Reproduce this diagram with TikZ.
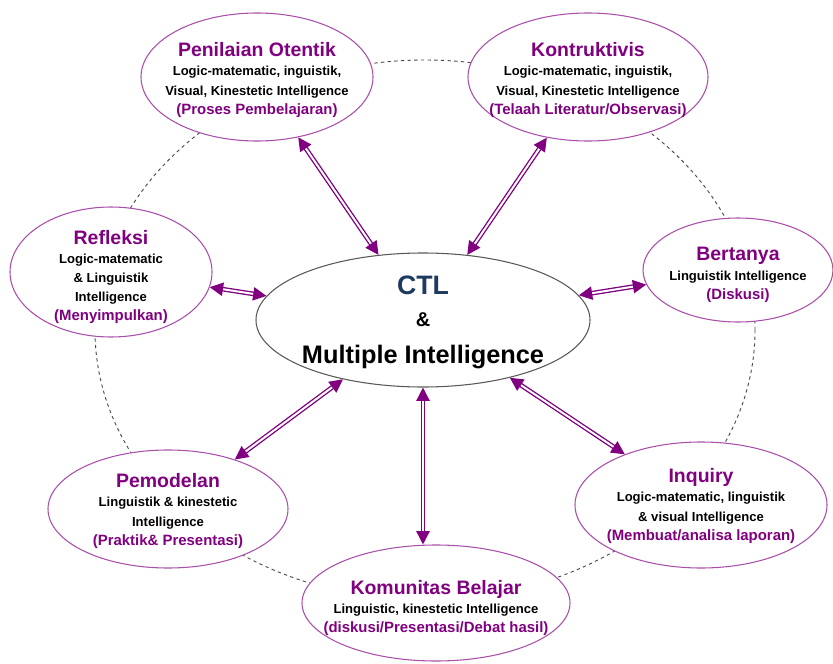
\documentclass[tikz,border=0pt]{standalone}
\usepackage{fontspec}
\setmainfont{Liberation Sans}
\usepackage{tikz}
\usetikzlibrary{shapes.geometric,arrows.meta}
\definecolor{ungu}{RGB}{128,0,128}
\definecolor{unguline}{RGB}{170,80,170}
\definecolor{ctlblue}{RGB}{30,58,96}
\tikzstyle{bubble} = [ellipse, draw=unguline, line width=0.8pt, fill=white, inner sep=0pt]
\tikzstyle{isi} = [align=center, font=\bfseries\fontsize{9.8}{14.4}\selectfont, inner sep=0pt]
\newcommand{\judul}[1]{{\color{ungu}\fontsize{14.6}{17}\selectfont #1}}
\newcommand{\kegiatan}[1]{{\color{ungu}\fontsize{11.2}{14.4}\selectfont #1}}
\begin{document}
\begin{tikzpicture}[x=0.75pt,y=-0.75pt,
link/.style={draw=ungu, double=white, double distance=1.5pt, line width=1pt,
  {Triangle[length=10pt,width=10pt]}-{Triangle[length=10pt,width=10pt]}}]
\useasboundingbox (0,0) rectangle (833,664);
% lingkaran putus-putus
\draw[dashed, dash pattern=on 2.5pt off 2.5pt, black!70, line width=0.7pt] (425,330) ellipse [x radius=330, y radius=270];
% pusat
\node[ellipse, draw=black!65, line width=0.8pt, fill=white, minimum width=250.5pt, minimum height=100.5pt] (ctl) at (423,320) {};
\node[align=center, inner sep=0pt, font=\bfseries] (ctlT) at (423,322)
  {{\color{ctlblue}\fontsize{20}{20}\selectfont CTL}\\[12pt]
   {\fontsize{15}{15}\selectfont \&}\\[13pt]
   {\fontsize{19}{19}\selectfont Multiple Intelligence}};
% komponen
\node[bubble, minimum width=174pt, minimum height=96pt] (pen) at (257,77) {};
\node[isi] (penT) at (257,80) {\judul{Penilaian Otentik}\\ Logic-matematic, inguistik,\\ Visual, Kinestetic Intelligence\\ \kegiatan{(Proses Pembelajaran)}};
\node[bubble, minimum width=180pt, minimum height=96pt] (kon) at (588,77) {};
\node[isi] (konT) at (588,80) {\judul{Kontruktivis}\\ Logic-matematic, inguistik,\\ Visual, Kinestetic Intelligence\\ \kegiatan{(Telaah Literatur/Observasi)}};
\node[bubble, minimum width=151.5pt, minimum height=97.5pt] (ref) at (111,272) {};
\node[isi] (refT) at (111,277) {\judul{Refleksi}\\ Logic-matematic\\ \& Linguistik\\ Intelligence\\ \kegiatan{(Menyimpulkan)}};
\node[bubble, minimum width=142.5pt, minimum height=78pt] (ber) at (738,270) {};
\node[isi] (berT) at (738,275) {\judul{Bertanya}\\ Linguistik Intelligence\\ \kegiatan{(Diskusi)}};
\node[bubble, minimum width=180pt, minimum height=88.5pt] (pem) at (168,509) {};
\node[isi] (pemT) at (168,511) {\judul{Pemodelan}\\ Linguistik \& kinestetic\\ Intelligence\\ \kegiatan{(Praktik\& Presentasi)}};
\node[bubble, minimum width=189pt, minimum height=94.5pt] (inq) at (701,505) {};
\node[isi] (inqT) at (701,506) {\judul{Inquiry}\\ Logic-matematic, linguistik\\ \& visual Intelligence\\ \kegiatan{(Membuat/analisa laporan)}};
\node[bubble, minimum width=201pt, minimum height=87pt] (kom) at (436,603) {};
\node[isi] (komT) at (436,608) {\judul{Komunitas Belajar}\\ Linguistic, kinestetic Intelligence\\ \kegiatan{(diskusi/Presentasi/Debat hasil)}};
% panah
\draw[link] (pen) -- (ctl);
\draw[link] (kon) -- (ctl);
\draw[link] (ref) -- (ctl);
\draw[link] (ber) -- (ctl);
\draw[link] (pem) -- (ctl);
\draw[link] (ctl.south) -- (kom.north -| ctl.south);
\draw[link] (inq) -- (ctl);
\end{tikzpicture}
\end{document}
